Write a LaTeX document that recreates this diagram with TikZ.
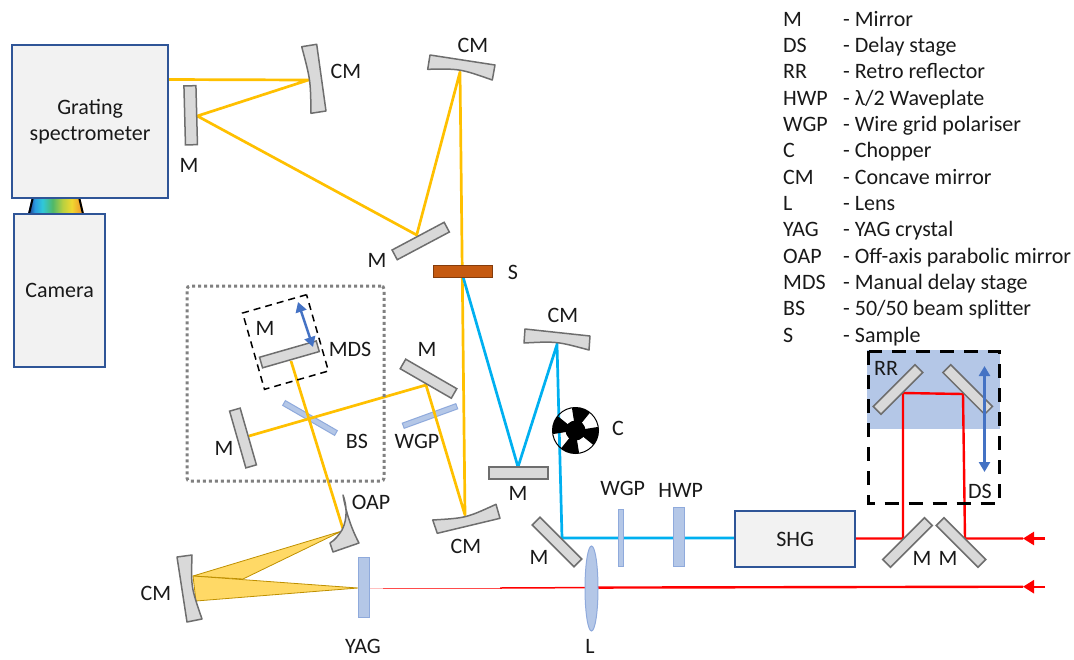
\documentclass[tikz,border=0pt]{standalone}
\usepackage{fontspec}
\setmainfont{Carlito}
\usetikzlibrary{arrows.meta,shapes.geometric}
\definecolor{boxblue}{HTML}{2F5597}
\definecolor{boxfill}{HTML}{F2F2F2}
\definecolor{mirfill}{HTML}{D9D9D9}
\definecolor{mirline}{HTML}{6E6E6E}
\definecolor{optfill}{HTML}{B4C7E7}
\definecolor{optline}{HTML}{8FAADC}
\definecolor{yellowbeam}{HTML}{FFC000}
\definecolor{cyanbeam}{HTML}{00B0F0}
\definecolor{redbeam}{HTML}{FF0000}
\definecolor{arrowblue}{HTML}{4472C4}
\definecolor{samplefill}{HTML}{C55A11}
\definecolor{sampleline}{HTML}{843C0C}
\definecolor{fanfill}{HTML}{FFD966}
\definecolor{fanline}{HTML}{BF9000}
\definecolor{spa}{HTML}{1F2F80}
\definecolor{spb}{HTML}{2A9AE0}
\definecolor{spc}{HTML}{30C8D8}
\definecolor{spd}{HTML}{50B868}
\definecolor{spe}{HTML}{B8D040}
\definecolor{spf}{HTML}{F0D830}
\definecolor{spg}{HTML}{F0902A}
\pgfdeclarehorizontalshading{spectrumbar}{100bp}{
 color(0bp)=(spa); color(25bp)=(spa); color(31bp)=(spb); color(38bp)=(spc);
 color(47bp)=(spd); color(56bp)=(spe); color(64bp)=(spf);
 color(74bp)=(spg); color(100bp)=(spg)}
\tikzset{
 x=1pt,y=-1pt,
 boxnode/.style={draw=boxblue,fill=boxfill,line width=2.2pt,anchor=north west,inner sep=0pt,font=\fontsize{22}{26.3}\selectfont,align=center,text=black!90},
 mirror/.style={draw=mirline,fill=mirfill,line width=1.5pt,inner sep=0pt,minimum width=59pt,minimum height=11pt},
 curvedmirror/.style={draw=mirline,fill=mirfill,line width=1.5pt,line join=round},
 plate/.style={draw=optline,fill=optfill,line width=1pt,inner sep=0pt},
 lbl/.style={inner sep=0pt,font=\fontsize{22}{24}\selectfont,text height=14.2pt,text depth=0pt,text=black!90},
 ybeam/.style={draw=yellowbeam,line width=2.7pt,line join=round},
 cbeam/.style={draw=cyanbeam,line width=2.7pt,line join=miter},
 rbeam/.style={draw=redbeam,line width=2.4pt,line join=miter},
 bluearrow/.style={draw=arrowblue,line width=2.4pt,{Triangle[length=10pt,width=11pt]}-{Triangle[length=10pt,width=11pt]}},
 redtip/.style={-{Triangle[length=11pt,width=13pt]}},
 fan/.style={fill=fanfill,draw=fanline,line width=.8pt,line join=round},
}
\begin{document}
\begin{tikzpicture}
\useasboundingbox (0,0) rectangle (1074,659);
% named beam vertices
\coordinate (specout) at (167,79.5);
\coordinate (hitcma) at (308.5,80);
\coordinate (hitma) at (197.3,116);
\coordinate (hitmb) at (416.7,235);
\coordinate (hitcmb) at (460,72);
\coordinate (hitcmc) at (465,515);
\coordinate (hitmc) at (426,385);
\coordinate (hitmd) at (249,436);
\coordinate (hitmds) at (291,361);
\coordinate (hitoap) at (343,529);
\coordinate (sout) at (463.3,277.7);
\coordinate (hitme) at (518,467);
\coordinate (hitcmd) at (557,344.5);
\coordinate (hitmf) at (562,538);
\coordinate (shgin) at (734,538);
\coordinate (shgout) at (854,538.5);
\coordinate (rra) at (903,538.5);
\coordinate (rrb) at (903,393);
\coordinate (rrc) at (963,394);
\coordinate (rrd) at (965,538.5);
\coordinate (inup) at (1045,538.5);
\coordinate (tipup) at (1023,538.5);
\coordinate (inlow) at (1045,586.7);
\coordinate (tiplow) at (1023,586.7);
\coordinate (lowa) at (585,587.6);
\coordinate (lowb) at (500,588);
\coordinate (lowc) at (383,588);
\coordinate (yagout) at (369,588);
% spectrum between the spectrometer and the camera
\shade[shading=spectrumbar] (28,214) -- (32,197) -- (80,197) -- (84,214) -- cycle;
\draw[black,line width=2pt] (29,214) -- (33,197);
\draw[black,line width=2pt] (83,214) -- (79,197);
% delay stage shading
\fill[optfill] (867,350) rectangle (1000,429);
% plates that the beams cross on top
\node[plate,minimum width=60pt,minimum height=5.5pt,rotate=-30] (bs) at (310,418) {};
\node[plate,minimum width=57pt,minimum height=5.5pt,rotate=20] (wgpa) at (430,416) {};
% yellow beams
\draw[ybeam] (specout) -- (hitcma) -- (hitma) -- (hitmb) -- (hitcmb) -- (hitcmc) -- (hitmc) -- (hitmd);
\draw[ybeam] (hitmds) -- (hitoap);
% cyan beams
\draw[cbeam] (sout) -- (hitme) -- (hitcmd) -- (hitmf) -- (shgin);
% chopper
\begin{scope}[shift={(575.5,430.5)}]
\foreach \a in {75,165,255,345}{
 \fill[black] (0,0) -- (\a-24:23pt) arc[start angle=\a-24,end angle=\a+24,radius=23pt] -- cycle;
}
\fill[black] (0,0) circle[radius=10pt];
\node[circle,draw=black,line width=1pt,minimum size=46pt,inner sep=0pt] (chopper) at (0,0) {};
\end{scope}
% red beams
\draw[rbeam] (shgout) -- (rra) -- (rrb) -- (rrc) -- (rrd) -- (tipup);
\draw[rbeam,redtip] (inup) -- (tipup);
\draw[rbeam,redtip] (inlow) -- (tiplow);
\draw[rbeam] (tiplow) -- (lowa);
\draw[draw=redbeam,line width=1.5pt] (lowa) -- (lowb);
\draw[draw=redbeam!70,line width=.7pt] (lowb) -- (lowc);
\draw[draw=redbeam!25,line width=1pt] (lowc) -- (yagout);
% focusing fans
\draw[fan] (342,531) -- (193,576) -- (243,579) -- cycle;
\draw[fan] (193,576) -- (358,588) -- (196,601) -- cycle;
% boxes
\node[boxnode,minimum width=156pt,minimum height=153pt] (spec) at (11,44) {Grating\\spectrometer};
\node[boxnode,minimum width=91pt,minimum height=153pt] (camera) at (13,213) {Camera};
\node[boxnode,minimum width=120pt,minimum height=56pt] (shg) at (734,510) {SHG};
% flat mirrors
\node[mirror,minimum height=12pt,rotate=-88.5] (ma) at (190.7,115.3) {};
\node[mirror,rotate=28] (mb) at (420.7,241) {};
\node[mirror,rotate=-30] (mc) at (428.5,378.7) {};
\node[mirror,rotate=-74] (md) at (243,438) {};
\node[mirror,rotate=16] (mds) at (289.4,354.4) {};
\node[mirror,minimum width=59pt,minimum height=12pt] (me) at (518.5,473) {};
\node[mirror,rotate=-45] (mf) at (557,542) {};
\node[mirror,rotate=45] (mg) at (907.5,542.5) {};
\node[mirror,rotate=-45] (mh) at (961,542.5) {};
\node[mirror,rotate=45] (rrl) at (898,389.5) {};
\node[mirror,rotate=-45] (rrr) at (967.7,389.5) {};
% concave mirrors
\draw[curvedmirror] (301.7,46.7) -- (316.7,44.3) -- (326,111) -- (311,113.3) .. controls (310.5,80) .. (301.7,46.7) -- cycle;
\draw[curvedmirror] (430,55) -- (495,65) -- (492.3,80) .. controls (460,68.7) .. (427.7,69.3) -- cycle;
\draw[curvedmirror] (525,329) -- (590,336) -- (589,350) .. controls (556.5,341.3) .. (524,343) -- cycle;
\draw[curvedmirror] (432.7,520) .. controls (466,518) .. (496,504.3) -- (500,518.3) -- (437.3,533.3) -- cycle;
\draw[curvedmirror] (177,557) -- (192,555) .. controls (191,587) .. (202,619) -- (187,622) -- cycle;
% off-axis parabolic mirror
\draw[curvedmirror] (343,495) .. controls (349,512) and (345,524) .. (342,530) .. controls (338,536) and (335,540) .. (330,543) -- (333,552) -- (359,543) .. controls (351,528) and (346,512) .. (343,495) -- cycle;
% sample
\node[draw=sampleline,fill=samplefill,line width=1.2pt,inner sep=0pt,minimum width=59pt,minimum height=11.5pt] (sample) at (463.3,271.5) {};
% transmissive optics
\node[plate,minimum width=5.5pt,minimum height=57pt] (wgpb) at (621.2,537.5) {};
\node[plate,minimum width=11pt,minimum height=59pt] (hwp) at (678.5,536.5) {};
\node[plate,minimum width=11pt,minimum height=60pt] (yag) at (363.5,587) {};
\node[plate,ellipse,minimum width=13pt,minimum height=85pt] (lens) at (591.5,588.5) {};
% delay-stage outlines
\draw[black,line width=3pt,dash pattern=on 14pt off 10pt] (868.5,351) rectangle (999,503);
\node[draw=black,line width=1.5pt,dash pattern=on 7pt off 5pt,minimum width=66.5pt,minimum height=79.4pt,inner sep=0pt,rotate=16] (mdsbox) at (285.5,342) {};
\node[draw=black!50,line width=3pt,dash pattern=on 3pt off 3pt,rounded corners=3pt,minimum width=197pt,minimum height=195pt,inner sep=0pt] (pathbox) at (285.5,383.5) {};
% translation arrows
\coordinate (dstop) at (984.5,366);
\coordinate (dsbot) at (984.5,472);
\draw[bluearrow] (dstop) -- (dsbot);
\coordinate (mdstop) at (298,302);
\coordinate (mdsbot) at (313,347);
\draw[bluearrow] (mdstop) -- (mdsbot);
% labels
\node[lbl] (la) at (346,71) {CM};
\node[lbl] (lb) at (189,165) {M};
\node[lbl] (lc) at (473,45) {CM};
\node[lbl] (ld) at (377,260) {M};
\node[lbl] (le) at (513,272) {S};
\node[lbl] (lf) at (563,315) {CM};
\node[lbl] (lg) at (265,328) {M};
\node[lbl] (lh) at (350,349) {MDS};
\node[lbl] (li) at (427,349) {M};
\node[lbl] (lj) at (357,441) {BS};
\node[lbl] (lk) at (417,441) {WGP};
\node[lbl] (ll) at (224,448) {M};
\node[lbl] (lm) at (618,428) {C};
\node[lbl] (ln) at (518,493) {M};
\node[lbl] (lo) at (622.7,488) {WGP};
\node[lbl] (lp) at (680.7,490) {HWP};
\node[lbl] (lq) at (539,557.7) {M};
\node[lbl] (lr) at (371,502) {OAP};
\node[lbl] (ls) at (466,546) {CM};
\node[lbl] (lt) at (156,593) {CM};
\node[lbl] (lu) at (363,646.5) {YAG};
\node[lbl] (lv) at (590,646.5) {L};
\node[lbl] (lw) at (886,368) {RR};
\node[lbl] (lx) at (980,491) {DS};
\node[lbl] (ly) at (922,558) {M};
\node[lbl] (lz) at (948,558) {M};
% legend
\foreach \k/\d [count=\i] in {M/Mirror,DS/Delay stage,RR/Retro reflector,HWP/λ\slash 2 Waveplate,WGP/Wire grid polariser,C/Chopper,CM/Concave mirror,L/Lens,YAG/YAG crystal,OAP/Off-axis parabolic mirror,MDS/Manual delay stage,BS/50\slash 50 beam splitter,S/Sample}{
 \node[lbl,anchor=west] (key\i) at (783,{19+26.33*(\i-1)}) {\k};
 \node[lbl,anchor=west] (val\i) at (843,{19+26.33*(\i-1)}) {- \d};
}
\end{tikzpicture}
\end{document}
